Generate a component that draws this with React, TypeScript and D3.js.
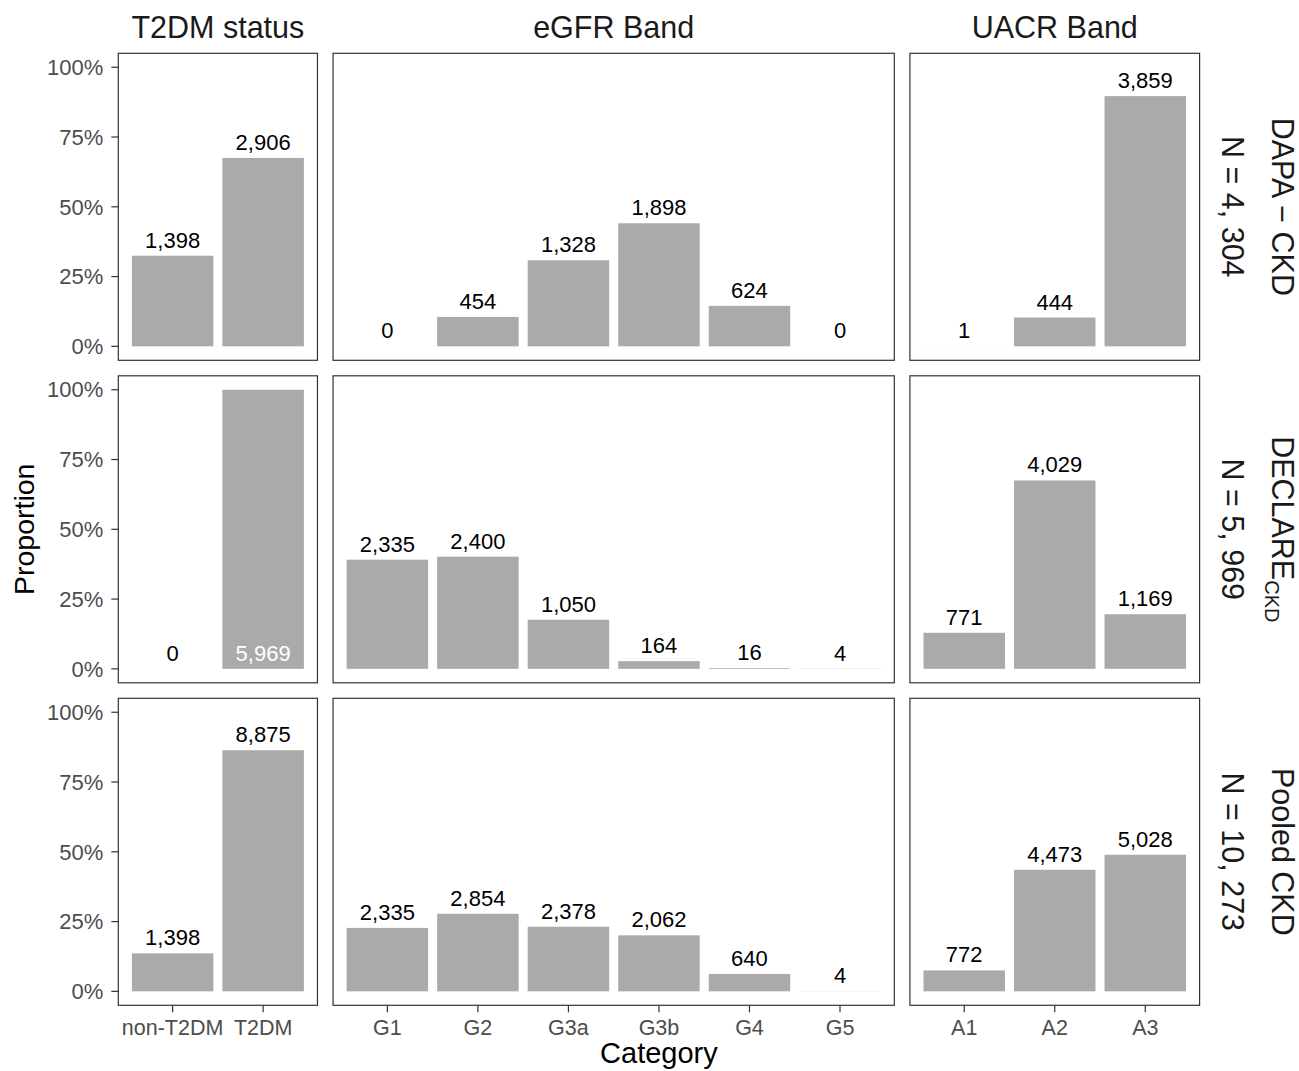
import React from "react";
import * as d3 from "d3";

// ---- data ----
const facetColumns = ["T2DM status", "eGFR Band", "UACR Band"];
const t2dmCategories = ["non-T2DM", "T2DM"];
const egfrCategories = ["G1", "G2", "G3a", "G3b", "G4", "G5"];
const uacrCategories = ["A1", "A2", "A3"];

const studyNames = ["DAPA-CKD", "DECLARE-CKD", "Pooled CKD"];
const studyN = [4304, 5969, 10273];

const dapaT2dm = [1398, 2906];
const dapaEgfr = [0, 454, 1328, 1898, 624, 0];
const dapaUacr = [1, 444, 3859];

const declareT2dm = [0, 5969];
const declareEgfr = [2335, 2400, 1050, 164, 16, 4];
const declareUacr = [771, 4029, 1169];

const pooledT2dm = [1398, 8875];
const pooledEgfr = [2335, 2854, 2378, 2062, 640, 4];
const pooledUacr = [772, 4473, 5028];

const yTickValues = [0, 0.25, 0.5, 0.75, 1];

const categoriesByColumn = [t2dmCategories, egfrCategories, uacrCategories];
const countsByRow = [
  [dapaT2dm, dapaEgfr, dapaUacr],
  [declareT2dm, declareEgfr, declareUacr],
  [pooledT2dm, pooledEgfr, pooledUacr],
];

// ---- layout ----
const W = 1299;
const H = 1071;
const FONT = "'Liberation Sans', Arial, Helvetica, sans-serif";
const panelLeft = 118.3;
const panelRight = 1199.6;
const colGap = 15.6;
const panelTop = 53.3;
const panelH = 307;
const rowGap = 15.5;
const barFill = "#AAAAAA";
const borderCol = "#333333";
const tickLabelCol = "#4D4D4D";

const units = categoriesByColumn.map((c) => c.length + 0.2);
const unitPx = (panelRight - panelLeft - colGap * 2) / d3.sum(units);
const colX: number[] = [];
{
  let x = panelLeft;
  units.forEach((u) => {
    colX.push(x);
    x += u * unitPx + colGap;
  });
}
const rowY = [0, 1, 2].map((i) => panelTop + i * (panelH + rowGap));

const fmtPct = d3.format(".0%");
const fmtCount = d3.format(",");

function RowLabel({ r, cy }: { r: number; cy: number }) {
  const x0 = 1271.7;
  const nText = "N = " + fmtCount(studyN[r]).replace(",", ", ");
  let first: React.ReactNode;
  if (r === 0) first = <text textAnchor="middle" y={0}>DAPA − CKD</text>;
  else if (r === 1)
    first = (
      <text textAnchor="middle" y={0}>
        DECLARE
        <tspan fontSize={20} dy={7}>CKD</tspan>
      </text>
    );
  else first = <text textAnchor="middle" y={0}>Pooled CKD</text>;
  return (
    <g transform={`translate(${x0},${cy}) rotate(90)`} fontSize={30.5} fill="#1A1A1A">
      {first}
      <text textAnchor="middle" y={50}>{nText}</text>
    </g>
  );
}

export default function App() {
  const panels: React.ReactNode[] = [];
  for (let r = 0; r < 3; r++) {
    const top = rowY[r];
    const bottom = top + panelH;
    const y = d3.scaleLinear().domain([-0.05, 1.05]).range([bottom, top]);
    for (let c = 0; c < 3; c++) {
      const cats = categoriesByColumn[c];
      const counts = countsByRow[r][c];
      const left = colX[c];
      const width = units[c] * unitPx;
      const x = d3
        .scaleBand<string>()
        .domain(cats)
        .range([left, left + width])
        .paddingInner(0.1)
        .paddingOuter(0.15);
      const N = studyN[r];
      panels.push(
        <g key={`p${r}${c}`}>
          <rect x={left} y={top} width={width} height={panelH} fill="white" />
          {cats.map((cat, i) => {
            const p = counts[i] / N;
            const inside = p >= 0.999;
            return (
              <g key={cat}>
                <rect
                  x={x(cat)}
                  y={y(p)}
                  width={x.bandwidth()}
                  height={Math.max(0, y(0) - y(p))}
                  fill={barFill}
                />
                <text
                  x={(x(cat) as number) + x.bandwidth() / 2}
                  y={(inside ? y(0) : y(p)) - 8}
                  textAnchor="middle"
                  fontSize={22}
                  fill={inside ? "white" : "black"}
                >
                  {fmtCount(counts[i])}
                </text>
              </g>
            );
          })}
          <rect
            x={left}
            y={top}
            width={width}
            height={panelH}
            fill="none"
            stroke={borderCol}
            strokeWidth={1.2}
          />
          {c === 0 &&
            yTickValues.map((t) => (
              <g key={t}>
                <line x1={left - 7} x2={left} y1={y(t)} y2={y(t)} stroke={borderCol} strokeWidth={1.2} />
                <text
                  x={left - 15}
                  y={y(t)}
                  dy="0.35em"
                  textAnchor="end"
                  fontSize={22}
                  fill={tickLabelCol}
                >
                  {fmtPct(t)}
                </text>
              </g>
            ))}
          {r === 2 &&
            cats.map((cat) => {
              const cx = (x(cat) as number) + x.bandwidth() / 2;
              return (
                <g key={"xt" + cat}>
                  <line x1={cx} x2={cx} y1={bottom} y2={bottom + 7} stroke={borderCol} strokeWidth={1.2} />
                  <text x={cx} y={1034.5} textAnchor="middle" fontSize={21.5} fill={tickLabelCol}>
                    {cat}
                  </text>
                </g>
              );
            })}
          {r === 0 && (
            <text
              x={left + width / 2}
              y={37.5}
              textAnchor="middle"
              fontSize={30.5}
              fill="#1A1A1A"
            >
              {facetColumns[c]}
            </text>
          )}
        </g>
      );
    }
  }

  return (
    <svg
      width={W}
      height={H}
      viewBox={`0 0 ${W} ${H}`}
      style={{ position: "absolute", left: 0, top: 0, fontFamily: FONT }}
    >
      <rect width={W} height={H} fill="white" />
      {panels}
      {[0, 1, 2].map((r) => (
        <RowLabel key={studyNames[r]} r={r} cy={rowY[r] + panelH / 2} />
      ))}
      <text
        transform={`translate(34,${(rowY[0] + rowY[2] + panelH) / 2}) rotate(-90)`}
        textAnchor="middle"
        fontSize={28.5}
        fill="black"
      >
        Proportion
      </text>
      <text
        x={(panelLeft + panelRight) / 2}
        y={1063}
        textAnchor="middle"
        fontSize={29}
        fill="black"
      >
        Category
      </text>
    </svg>
  );
}
